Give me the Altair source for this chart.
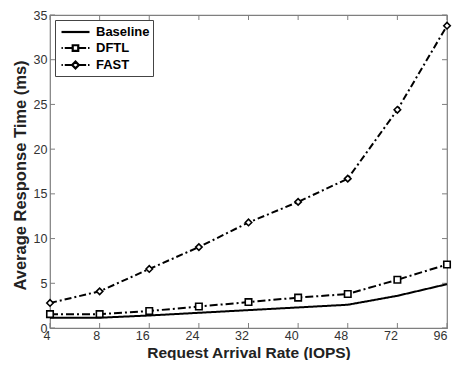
import altair as alt
import pandas as pd

rates = ["4", "8", "16", "24", "32", "40", "48", "72", "96"]
series = ["Baseline", "DFTL", "FAST"]
baseline = [1.15, 1.15, 1.4, 1.7, 2.0, 2.3, 2.6, 3.6, 4.9]
dftl = [1.55, 1.55, 1.9, 2.4, 2.9, 3.4, 3.8, 5.4, 7.1]
fast = [2.8, 4.1, 6.6, 9.05, 11.8, 14.1, 16.7, 24.4, 33.8]
y_ticks = [0, 5, 10, 15, 20, 25, 30, 35]

W, H = 397, 313
FONT = "Liberation Sans"

rows = []
for name, vals in zip(series, [baseline, dftl, fast]):
    for r, v in zip(rates, vals):
        rows.append({"series": name, "rate": r, "ms": v})
df = pd.DataFrame(rows)

xs = alt.Scale(type="point", padding=0, domain=rates)
ys = alt.Scale(domain=[0, 35], nice=False)

X = alt.X("rate:O", scale=xs, sort=rates,
          axis=alt.Axis(title="Request Arrival Rate (IOPS)", labelAngle=0, ticks=False,
                        domain=False, labelPadding=7, labelFontSize=12.5,
                        labelColor="#333333", labelFont=FONT, titleFont=FONT,
                        titleFontSize=15.5, titleFontWeight="bold", titleColor="#222222",
                        titleY=24, titleBaseline="middle"))
Y = alt.Y("ms:Q", scale=ys,
          axis=alt.Axis(title="Average Response Time (ms)", values=y_ticks, ticks=False,
                        domain=False, grid=False, labelPadding=3, labelFontSize=12.5,
                        labelColor="#333333", labelFont=FONT, titleFont=FONT,
                        titleFontSize=16.5, titleFontWeight="bold", titleColor="#222222",
                        titleX=-30, titleY=160, titleAngle=-90, titleAlign="center",
                        titleBaseline="middle"))

lines = alt.Chart(df).mark_line(color="black", strokeWidth=2).encode(
    x=X, y=Y,
    strokeDash=alt.StrokeDash("series:N",
                              scale=alt.Scale(domain=series,
                                              range=[[1, 0], [8, 3, 2, 3], [7, 3, 2, 3]]),
                              legend=None),
    detail="series:N",
)

pts = alt.Chart(df[df.series != "Baseline"]).mark_point(
    filled=False, fill="white", stroke="black", strokeWidth=1.6, size=42, opacity=1
).encode(
    x="rate:O", y="ms:Q",
    shape=alt.Shape("series:N", scale=alt.Scale(domain=["DFTL", "FAST"],
                                                range=["square", "diamond"]),
                    legend=None),
)

# legend symbol paths: 1 unit = 7.5 px (symbolSize 225); line spans -0.733..3.0, centre 1.133
p_base = "M-0.733,0L3,0"
p_dftl = ("M-0.733,0L-0.55,0M-0.3,0L0.75,0M1.52,0L2.55,0M2.8,0L3,0"
          "M0.76,-0.37L1.5,-0.37L1.5,0.37L0.76,0.37Z")
p_fast = ("M-0.733,0L-0.55,0M-0.3,0L0.7,0M1.56,0L2.55,0M2.8,0L3,0"
          "M1.133,-0.45L1.583,0L1.133,0.45L0.683,0Z")

leg_df = pd.DataFrame({"leg": series, "rate": ["4"] * 3, "ms": [0.0] * 3})
legend_layer = alt.Chart(leg_df).mark_point(opacity=0, size=225).encode(
    x="rate:O", y="ms:Q",
    shape=alt.Shape("leg:N", scale=alt.Scale(domain=series, range=[p_base, p_dftl, p_fast]),
                    legend=alt.Legend(title=None, orient="top-left", offset=5,
                                      symbolOpacity=1, symbolSize=225,
                                      symbolStrokeColor="black", symbolFillColor="white",
                                      symbolStrokeWidth=2.2, labelFont=FONT,
                                      labelFontSize=13, labelFontWeight="bold",
                                      labelColor="black", labelOffset=20,
                                      padding=3, rowPadding=0,
                                      strokeColor="#444444", fillColor="white")),
)

xt = pd.DataFrame({"rate": rates})
yt = pd.DataFrame({"ms": y_ticks})
tick_col = "#7f7f7f"
tb = alt.Chart(xt).mark_rule(color=tick_col).encode(x="rate:O", y=alt.value(H), y2=alt.value(H - 5))
tt = alt.Chart(xt).mark_rule(color=tick_col).encode(x="rate:O", y=alt.value(0), y2=alt.value(5))
tl = alt.Chart(yt).mark_rule(color=tick_col).encode(y="ms:Q", x=alt.value(0), x2=alt.value(5))
tr = alt.Chart(yt).mark_rule(color=tick_col).encode(y="ms:Q", x=alt.value(W - 5), x2=alt.value(W))

chart = alt.layer(tb, tt, tl, tr, lines, pts, legend_layer).resolve_scale(
    shape="independent", strokeDash="independent"
).properties(
    width=W, height=H,
    autosize=alt.AutoSizeParams(type="none"),
    padding={"left": 42, "top": 7, "right": 8, "bottom": 32},
    background="white",
).configure_view(stroke="#7f7f7f", strokeWidth=1.2)

chart.save("out.html", embed_options={"renderer": "svg", "actions": False})
